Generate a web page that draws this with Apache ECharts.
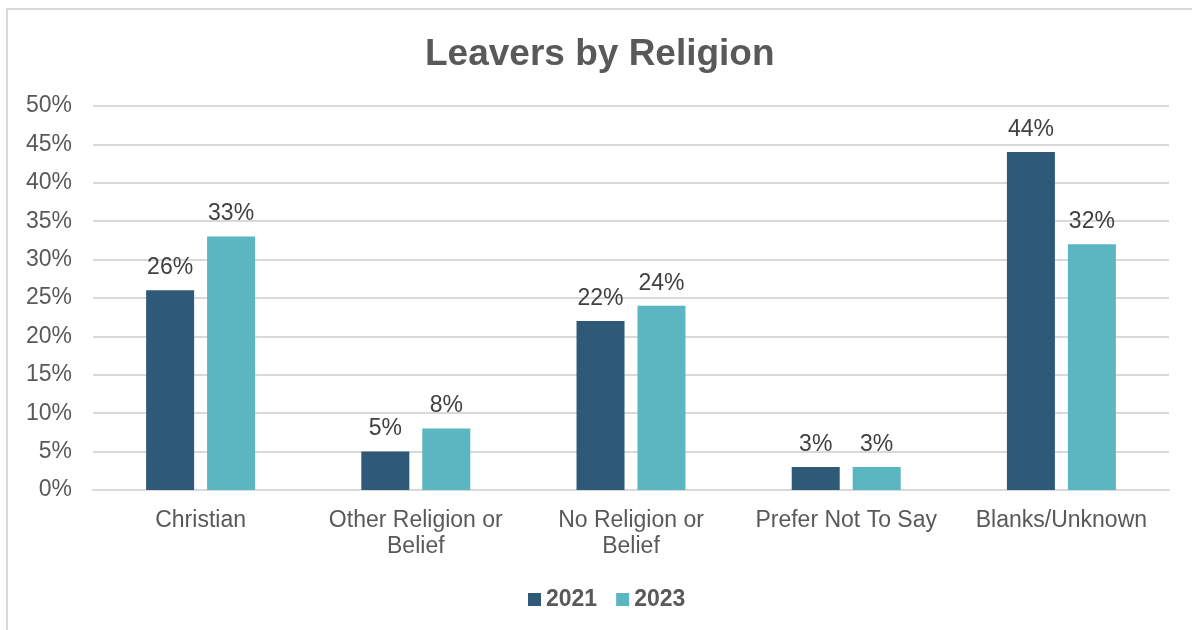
<!DOCTYPE html>
<html>
<head>
<meta charset="utf-8">
<script src="https://cdn.jsdelivr.net/npm/echarts@6/dist/echarts.min.js"></script>
<style>html,body{margin:0;padding:0;background:#fff;}#c{width:1192px;height:630px;}</style>
</head>
<body>
<div id="c"></div>
<script>
const categories = ['Christian', 'Other Religion or\nBelief', 'No Religion or\nBelief', 'Prefer Not To Say', 'Blanks/Unknown'];
const values2021 = [26, 5, 22, 3, 44];
const values2023 = [33, 8, 24, 3, 32];
const yTicks = [0, 5, 10, 15, 20, 25, 30, 35, 40, 45, 50];

const chart = echarts.init(document.getElementById('c'));
const font = 'Liberation Sans, Arial, sans-serif';
const labelStyle = { show: true, position: 'top', formatter: p => p.value + '%', color: '#404040', fontSize: 23, fontFamily: font, distance: 11 };
chart.setOption({
  animation: false,
  graphic: [{ type: 'rect', shape: { x: 7, y: 9, width: 1220, height: 700 }, style: { fill: 'none', stroke: '#D9D9D9', lineWidth: 2 }, silent: true }],
  title: { text: 'Leavers by Religion', left: 425, top: 36, padding: 0, textStyle: { color: '#595959', fontSize: 37, fontWeight: 'bold', fontFamily: font } },
  legend: { bottom: 19, left: 528, padding: 0, itemWidth: 13, itemHeight: 13, itemGap: 19, icon: 'rect', textStyle: { color: '#595959', fontSize: 23, fontWeight: 'bold', fontFamily: font, padding: [0, 0, 0, 0] }, data: ['2021', '2023'] },
  grid: { left: 93, right: 23, top: 106, bottom: 140, containLabel: false },
  xAxis: { type: 'category', data: categories, axisLine: { lineStyle: { color: '#D9D9D9', width: 2 } }, axisTick: { show: false },
    axisLabel: { color: '#595959', fontSize: 23, fontFamily: font, margin: 18, lineHeight: 26, interval: 0 } },
  yAxis: { type: 'value', min: 0, max: 50, interval: 5, axisLine: { show: false }, axisTick: { show: false },
    splitLine: { lineStyle: { color: '#D9D9D9', width: 2 } },
    axisLabel: { color: '#595959', fontSize: 23, fontFamily: font, margin: 21, formatter: v => yTicks.includes(v) ? v + '%' : '' } },
  series: [
    { name: '2021', type: 'bar', data: values2021, barWidth: 48, barGap: '27%', itemStyle: { color: '#2E5A78' }, label: labelStyle },
    { name: '2023', type: 'bar', data: values2023, barWidth: 48, itemStyle: { color: '#5AB6C0' }, label: labelStyle }
  ]
});
</script>
</body>
</html>
